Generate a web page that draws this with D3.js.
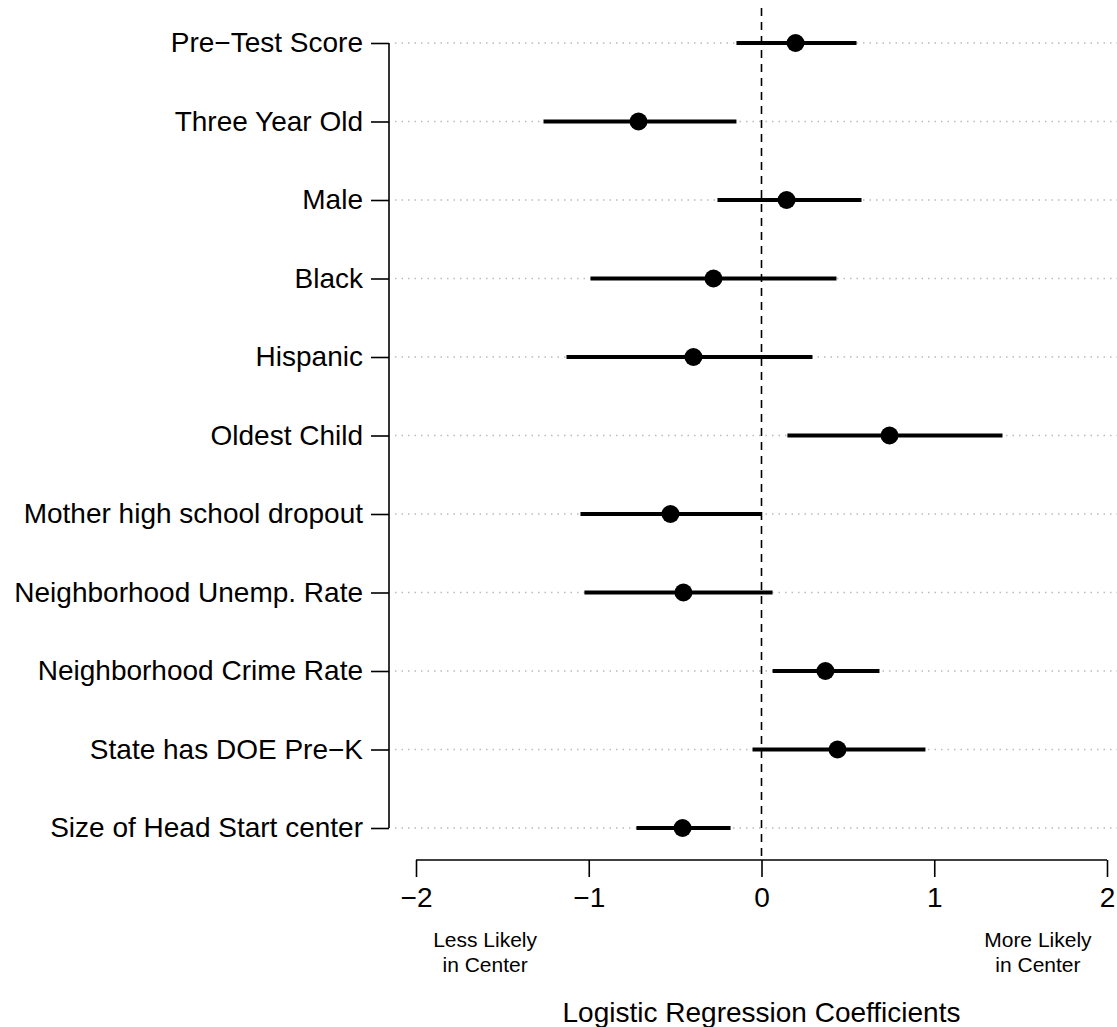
<!DOCTYPE html>
<html>
<head>
<meta charset="utf-8">
<script src="https://cdn.jsdelivr.net/npm/d3@7"></script>
<style>
  body { margin: 0; background: #fff; }
  svg { font-family: "Liberation Sans", Arial, sans-serif; }
</style>
</head>
<body>
<svg id="chart" width="1117" height="1027"></svg>
<script>
// coefficient estimates with interval ends
const labels = ['Pre\u2212Test Score', 'Three Year Old', 'Male', 'Black', 'Hispanic', 'Oldest Child',
    'Mother high school dropout', 'Neighborhood Unemp. Rate', 'Neighborhood Crime Rate',
    'State has DOE Pre\u2212K', 'Size of Head Start center'];
const estimates = [0.197, -0.712, 0.145, -0.278, -0.394, 0.741, -0.527, -0.452, 0.37, 0.44, -0.457];
const lower = [-0.145, -1.262, -0.255, -0.99, -1.129, 0.15, -1.048, -1.025, 0.064, -0.052, -0.724];
const upper = [0.55, -0.145, 0.579, 0.434, 0.295, 1.395, 0.0, 0.064, 0.683, 0.949, -0.179];
const xTicks = [-2, -1, 0, 1, 2];

const svg = d3.select('#chart');

const x = d3.scaleLinear().domain([-2, 2]).range([416, 1107]);
const y = d3.scalePoint().domain(labels).range([43, 828]);

// dotted guide lines
svg.append('g').selectAll('line').data(labels).join('line')
    .attr('x1', 395).attr('x2', 1117)
    .attr('y1', d => y(d)).attr('y2', d => y(d))
    .attr('stroke', '#bbb').attr('stroke-width', 1.3)
    .attr('stroke-dasharray', '1.5,5');

// zero line
svg.append('line')
    .attr('x1', x(0)).attr('x2', x(0))
    .attr('y1', 8).attr('y2', 860)
    .attr('stroke', '#000').attr('stroke-width', 1.6)
    .attr('stroke-dasharray', '8,6');

// y axis
const yAxis = svg.append('g')
    .attr('transform', 'translate(389,0)')
    .call(d3.axisLeft(y).tickSize(18).tickPadding(8));
yAxis.select('.domain').attr('d', `M0,${y(labels[0])}V${y(labels[labels.length - 1])}`)
    .attr('stroke-width', 1.6);
yAxis.selectAll('.tick line').attr('stroke-width', 1.6);
yAxis.selectAll('.tick text').attr('font-size', 28).attr('fill', '#000')
    .attr('font-family', '"Liberation Sans", Arial, sans-serif');

// x axis
const xAxis = svg.append('g')
    .attr('transform', 'translate(0,860)')
    .call(d3.axisBottom(x).tickValues(xTicks).tickSize(17).tickPadding(10)
        .tickFormat(d => d < 0 ? '\u2212' + Math.abs(d) : d));
xAxis.select('.domain').attr('d', `M${x(-2)},0H${x(2)}`).attr('stroke-width', 1.6);
xAxis.selectAll('.tick line').attr('stroke-width', 1.6);
xAxis.selectAll('.tick text').attr('font-size', 28).attr('fill', '#000')
    .attr('font-family', '"Liberation Sans", Arial, sans-serif');

// direction notes
const notes = [
    {v: -1.6, lines: ['Less Likely', 'in Center']},
    {v: 1.6, lines: ['More Likely', 'in Center']}
];
notes.forEach(n => {
    const t = svg.append('text')
        .attr('x', x(n.v)).attr('y', 947)
        .attr('text-anchor', 'middle').attr('font-size', 21);
    n.lines.forEach((l, i) => {
        t.append('tspan').attr('x', x(n.v)).attr('dy', i ? 25 : 0).text(l);
    });
});

svg.append('text')
    .attr('x', x(0)).attr('y', 1022)
    .attr('text-anchor', 'middle').attr('font-size', 28)
    .text('Logistic Regression Coefficients');

// intervals
svg.append('g').selectAll('line').data(labels).join('line')
    .attr('x1', (d, i) => x(lower[i])).attr('x2', (d, i) => x(upper[i]))
    .attr('y1', d => y(d)).attr('y2', d => y(d))
    .attr('stroke', '#000').attr('stroke-width', 4);

// points
svg.append('g').selectAll('circle').data(labels).join('circle')
    .attr('cx', (d, i) => x(estimates[i])).attr('cy', d => y(d))
    .attr('r', 9).attr('fill', '#000');
</script>
</body>
</html>
